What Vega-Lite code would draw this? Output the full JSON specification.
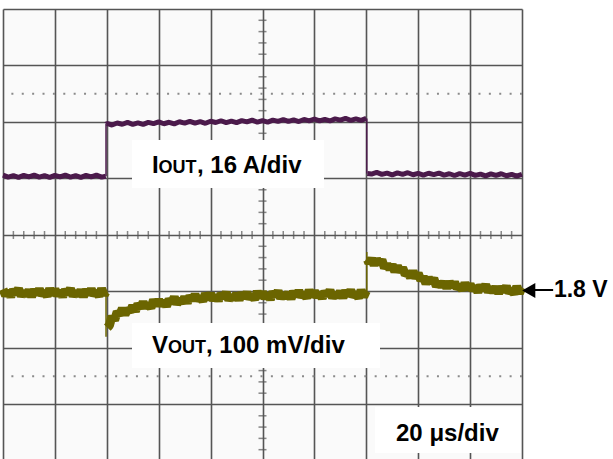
{
  "$schema": "https://vega.github.io/schema/vega-lite/v6.json",
  "width": 519,
  "height": 450,
  "autosize": {"type": "none"},
  "padding": {"left": 3, "top": 9, "right": 91, "bottom": 0},
  "background": "white",
  "config": {"view": {"stroke": null, "fill": "#fafafa"}},
  "datasets": {
    "vout": [
      {"t":0,"v":3.04},{"t":1,"v":2.93},{"t":2,"v":3.01},{"t":3,"v":2.91},{"t":4,"v":3.03},{"t":5,"v":2.96},{"t":6,"v":3.05},{"t":7,"v":2.92},{"t":8,"v":3.00},{"t":9,"v":2.93},
      {"t":10,"v":3.02},{"t":11,"v":2.91},{"t":12,"v":3.03},{"t":13,"v":2.95},{"t":14,"v":3.04},{"t":15,"v":2.94},{"t":16,"v":2.99},{"t":17,"v":2.92},{"t":18,"v":3.05},{"t":19,"v":2.94},
      {"t":20,"v":3.04},{"t":21,"v":2.93},{"t":22,"v":3.01},{"t":23,"v":2.91},{"t":24,"v":3.03},{"t":25,"v":2.96},{"t":26,"v":3.05},{"t":27,"v":2.92},{"t":28,"v":3.00},{"t":29,"v":2.93},
      {"t":30,"v":3.02},{"t":31,"v":2.91},{"t":32,"v":3.03},{"t":33,"v":2.95},{"t":34,"v":3.04},{"t":35,"v":2.94},{"t":36,"v":2.99},{"t":37,"v":2.92},{"t":38,"v":3.05},{"t":39,"v":2.94},
      {"t":39.6,"v":2.99},{"t":39.8,"v":null},{"t":40.2,"v":2.36},
      {"t":41,"v":2.40},{"t":42,"v":2.56},{"t":43,"v":2.49},{"t":44,"v":2.64},{"t":45,"v":2.59},{"t":46,"v":2.70},{"t":47,"v":2.59},{"t":48,"v":2.69},{"t":49,"v":2.64},
      {"t":50,"v":2.75},{"t":51,"v":2.65},{"t":52,"v":2.78},{"t":53,"v":2.71},{"t":54,"v":2.81},{"t":55,"v":2.72},{"t":56,"v":2.77},{"t":57,"v":2.71},{"t":58,"v":2.85},{"t":59,"v":2.75},
      {"t":60,"v":2.85},{"t":61,"v":2.75},{"t":62,"v":2.83},{"t":63,"v":2.74},{"t":64,"v":2.86},{"t":65,"v":2.80},{"t":66,"v":2.90},{"t":67,"v":2.78},{"t":68,"v":2.86},{"t":69,"v":2.80},
      {"t":70,"v":2.90},{"t":71,"v":2.80},{"t":72,"v":2.92},{"t":73,"v":2.85},{"t":74,"v":2.94},{"t":75,"v":2.85},{"t":76,"v":2.90},{"t":77,"v":2.83},{"t":78,"v":2.96},{"t":79,"v":2.86},
      {"t":80,"v":2.96},{"t":81,"v":2.85},{"t":82,"v":2.93},{"t":83,"v":2.84},{"t":84,"v":2.96},{"t":85,"v":2.89},{"t":86,"v":2.98},{"t":87,"v":2.85},{"t":88,"v":2.93},{"t":89,"v":2.86},
      {"t":90,"v":2.96},{"t":91,"v":2.85},{"t":92,"v":2.97},{"t":93,"v":2.89},{"t":94,"v":2.98},{"t":95,"v":2.88},{"t":96,"v":2.93},{"t":97,"v":2.86},{"t":98,"v":3.00},{"t":99,"v":2.89},
      {"t":100,"v":2.99},{"t":101,"v":2.88},{"t":102,"v":2.96},{"t":103,"v":2.86},{"t":104,"v":2.99},{"t":105,"v":2.92},{"t":106,"v":3.01},{"t":107,"v":2.88},{"t":108,"v":2.96},{"t":109,"v":2.89},
      {"t":110,"v":2.98},{"t":111,"v":2.87},{"t":112,"v":3.00},{"t":113,"v":2.92},{"t":114,"v":3.01},{"t":115,"v":2.91},{"t":116,"v":2.96},{"t":117,"v":2.89},{"t":118,"v":3.02},{"t":119,"v":2.91},
      {"t":120,"v":3.01},{"t":121,"v":2.90},{"t":122,"v":2.98},{"t":123,"v":2.88},{"t":124,"v":3.00},{"t":125,"v":2.93},{"t":126,"v":3.02},{"t":127,"v":2.89},{"t":128,"v":2.97},{"t":129,"v":2.90},
      {"t":130,"v":3.00},{"t":131,"v":2.89},{"t":132,"v":3.01},{"t":133,"v":2.93},{"t":134,"v":3.02},{"t":135,"v":2.92},{"t":136,"v":2.96},{"t":137,"v":2.89},{"t":138,"v":3.02},{"t":139,"v":2.91},
      {"t":140,"v":3.01},{"t":140.2,"v":null},{"t":140.5,"v":3.56},
      {"t":141,"v":3.50},{"t":142,"v":3.58},{"t":143,"v":3.47},{"t":144,"v":3.57},{"t":145,"v":3.49},{"t":146,"v":3.56},{"t":147,"v":3.42},{"t":148,"v":3.48},{"t":149,"v":3.40},
      {"t":150,"v":3.47},{"t":151,"v":3.35},{"t":152,"v":3.45},{"t":153,"v":3.35},{"t":154,"v":3.42},{"t":155,"v":3.30},{"t":156,"v":3.33},{"t":157,"v":3.25},{"t":158,"v":3.36},{"t":159,"v":3.24},
      {"t":160,"v":3.32},{"t":161,"v":3.20},{"t":162,"v":3.26},{"t":163,"v":3.14},{"t":164,"v":3.24},{"t":165,"v":3.16},{"t":166,"v":3.23},{"t":167,"v":3.09},{"t":168,"v":3.16},{"t":169,"v":3.09},
      {"t":170,"v":3.17},{"t":171,"v":3.06},{"t":172,"v":3.17},{"t":173,"v":3.08},{"t":174,"v":3.16},{"t":175,"v":3.06},{"t":176,"v":3.10},{"t":177,"v":3.03},{"t":178,"v":3.15},{"t":179,"v":3.04},
      {"t":180,"v":3.13},{"t":181,"v":3.02},{"t":182,"v":3.09},{"t":183,"v":2.99},{"t":184,"v":3.11},{"t":185,"v":3.03},{"t":186,"v":3.12},{"t":187,"v":2.99},{"t":188,"v":3.07},{"t":189,"v":2.99},
      {"t":190,"v":3.08},{"t":191,"v":2.97},{"t":192,"v":3.08},{"t":193,"v":3.00},{"t":194,"v":3.09},{"t":195,"v":2.98},{"t":196,"v":3.03},{"t":197,"v":2.96},{"t":198,"v":3.09},{"t":199,"v":2.97},
      {"t":200,"v":3.07}
    ],
    "iout": [
      {"t":0,"v":5.06},{"t":2,"v":5.025},{"t":4,"v":5.05},{"t":6,"v":5.02},{"t":8,"v":5.055},{"t":10,"v":5.03},{"t":12,"v":5.06},{"t":14,"v":5.025},{"t":16,"v":5.05},{"t":18,"v":5.02},
      {"t":20,"v":5.055},{"t":22,"v":5.03},{"t":24,"v":5.06},{"t":26,"v":5.025},{"t":28,"v":5.05},{"t":30,"v":5.02},{"t":32,"v":5.055},{"t":34,"v":5.03},{"t":36,"v":5.06},{"t":38,"v":5.025},
      {"t":39.6,"v":5.04},{"t":39.7,"v":null},{"t":39.85,"v":5.965},
      {"t":40,"v":5.975},{"t":42,"v":5.947},{"t":44,"v":5.983},{"t":46,"v":5.96},{"t":48,"v":5.992},{"t":50,"v":5.959},{"t":52,"v":5.985},{"t":54,"v":5.957},{"t":56,"v":5.994},{"t":58,"v":5.97},
      {"t":60,"v":6.002},{"t":62,"v":5.969},{"t":64,"v":5.995},{"t":66,"v":5.967},{"t":68,"v":6.004},{"t":70,"v":5.981},{"t":72,"v":6.012},{"t":74,"v":5.979},{"t":76,"v":6.006},{"t":78,"v":5.977},
      {"t":80,"v":6.014},{"t":82,"v":5.991},{"t":84,"v":6.022},{"t":86,"v":5.989},{"t":88,"v":6.016},{"t":90,"v":5.988},{"t":92,"v":6.024},{"t":94,"v":6.001},{"t":96,"v":6.033},{"t":98,"v":5.999},
      {"t":100,"v":6.026},{"t":102,"v":5.998},{"t":104,"v":6.034},{"t":106,"v":6.011},{"t":108,"v":6.043},{"t":110,"v":6.01},{"t":112,"v":6.036},{"t":114,"v":6.008},{"t":116,"v":6.045},{"t":118,"v":6.021},
      {"t":120,"v":6.053},{"t":122,"v":6.02},{"t":124,"v":6.046},{"t":126,"v":6.018},{"t":128,"v":6.055},{"t":130,"v":6.032},{"t":132,"v":6.063},{"t":134,"v":6.03},{"t":136,"v":6.057},{"t":138,"v":6.028},
      {"t":140,"v":6.065},{"t":140.2,"v":null},{"t":140.4,"v":5.09},
      {"t":142,"v":5.079},{"t":144,"v":5.108},{"t":146,"v":5.072},{"t":148,"v":5.096},{"t":150,"v":5.065},{"t":152,"v":5.099},{"t":154,"v":5.073},{"t":156,"v":5.102},{"t":158,"v":5.066},{"t":160,"v":5.09},
      {"t":162,"v":5.059},{"t":164,"v":5.093},{"t":166,"v":5.067},{"t":168,"v":5.096},{"t":170,"v":5.06},{"t":172,"v":5.084},{"t":174,"v":5.053},{"t":176,"v":5.087},{"t":178,"v":5.061},{"t":180,"v":5.09},
      {"t":182,"v":5.054},{"t":184,"v":5.078},{"t":186,"v":5.047},{"t":188,"v":5.081},{"t":190,"v":5.055},{"t":192,"v":5.084},{"t":194,"v":5.048},{"t":196,"v":5.072},{"t":198,"v":5.041},{"t":200,"v":5.075}
    ],
    "vedges": [
      {"t":39.7,"v1":2.99,"v2":2.20},
      {"t":140.2,"v1":2.98,"v2":3.70}
    ],
    "iedges": [
      {"t":39.7,"v1":5.04,"v2":5.97},
      {"t":140.2,"v1":6.06,"v2":5.09}
    ],
    "hticks": [
      {"t":4},{"t":8},{"t":12},{"t":16},{"t":24},{"t":28},{"t":32},{"t":36},{"t":44},{"t":48},{"t":52},{"t":56},{"t":64},{"t":68},{"t":72},{"t":76},{"t":84},{"t":88},{"t":92},{"t":96},
      {"t":104},{"t":108},{"t":112},{"t":116},{"t":124},{"t":128},{"t":132},{"t":136},{"t":144},{"t":148},{"t":152},{"t":156},{"t":164},{"t":168},{"t":172},{"t":176},{"t":184},{"t":188},{"t":192},{"t":196}
    ],
    "vticks": [
      {"d":0.2},{"d":0.4},{"d":0.6},{"d":0.8},{"d":1.2},{"d":1.4},{"d":1.6},{"d":1.8},{"d":2.2},{"d":2.4},{"d":2.6},{"d":2.8},{"d":3.2},{"d":3.4},{"d":3.6},{"d":3.8},
      {"d":4.2},{"d":4.4},{"d":4.6},{"d":4.8},{"d":5.2},{"d":5.4},{"d":5.6},{"d":5.8},{"d":6.2},{"d":6.4},{"d":6.6},{"d":6.8},{"d":7.2},{"d":7.4},{"d":7.6},{"d":7.8}
    ]
  },
  "layer": [
    {
      "data": {"name": "vedges"},
      "mark": {"type": "rule", "color": "#6b6500", "strokeWidth": 1.5},
      "encoding": {
        "x": {"field": "t", "type": "quantitative",
              "scale": {"domain": [0, 200], "nice": false, "zero": false},
              "axis": {"values": [0,20,40,60,80,100,120,140,160,180,200], "grid": true, "gridColor": "#555555", "gridWidth": 1.6, "labels": false, "ticks": false, "domain": false, "title": null}},
        "y": {"field": "v1", "type": "quantitative",
              "scale": {"domain": [0.035, 8], "nice": false, "zero": false},
              "axis": {"values": [1,2,3,4,5,6,7,8], "grid": true, "gridColor": "#555555", "gridWidth": 1.6, "labels": false, "ticks": false, "domain": false, "title": null}},
        "y2": {"field": "v2"}
      }
    },
    {
      "data": {"values": [{"d": 1.5}, {"d": 6.5}]},
      "mark": {"type": "rule", "color": "#8a8a8a", "strokeWidth": 2, "strokeDash": [2, 8.38]},
      "encoding": {"y": {"field": "d", "type": "quantitative"}}
    },
    {
      "data": {"name": "hticks"},
      "mark": {"type": "tick", "orient": "vertical", "color": "#555555", "size": 8, "thickness": 1.5},
      "encoding": {"x": {"field": "t", "type": "quantitative"}, "y": {"datum": 4}}
    },
    {
      "data": {"name": "vticks"},
      "mark": {"type": "tick", "orient": "horizontal", "color": "#555555", "size": 8, "thickness": 1.5},
      "encoding": {"y": {"field": "d", "type": "quantitative"}, "x": {"datum": 100}}
    },
    {
      "data": {"name": "iedges"},
      "mark": {"type": "rule", "color": "#4b1a4b", "strokeWidth": 1.5},
      "encoding": {"x": {"field": "t", "type": "quantitative"}, "y": {"field": "v1", "type": "quantitative"}, "y2": {"field": "v2"}}
    },
    {
      "data": {"name": "iout"},
      "mark": {"type": "line", "color": "#4b1a4b", "strokeWidth": 5, "strokeJoin": "bevel", "invalid": "break-paths-filter-domains"},
      "encoding": {"x": {"field": "t", "type": "quantitative"}, "y": {"field": "v", "type": "quantitative"}}
    },
    {
      "data": {"name": "vout"},
      "mark": {"type": "line", "color": "#6b6500", "strokeWidth": 9, "strokeJoin": "bevel", "invalid": "break-paths-filter-domains"},
      "encoding": {"x": {"field": "t", "type": "quantitative"}, "y": {"field": "v", "type": "quantitative"}}
    },
    {
      "data": {"values": [{}]},
      "mark": {"type": "rect", "color": "white"},
      "encoding": {"x": {"datum": 49.71}, "x2": {"datum": 123.7}, "y": {"datum": 5.681}, "y2": {"datum": 4.832}}
    },
    {
      "data": {"values": [{}]},
      "mark": {"type": "rect", "color": "white"},
      "encoding": {"x": {"datum": 49.71}, "x2": {"datum": 145.28}, "y": {"datum": 2.442}, "y2": {"datum": 1.646}}
    },
    {
      "data": {"values": [{}]},
      "mark": {"type": "rect", "color": "white"},
      "encoding": {"x": {"datum": 143.35}, "x2": {"datum": 199.5}, "y": {"datum": 0.955}, "y2": {"datum": 0.141}}
    },
    {
      "data": {"values": [{}]},
      "mark": {"type": "text", "text": "I", "font": "Liberation Sans", "fontWeight": "bold", "fontSize": 24, "align": "left", "baseline": "alphabetic", "color": "black"},
      "encoding": {"x": {"datum": 57.42}, "y": {"datum": 5.097}}
    },
    {
      "data": {"values": [{}]},
      "mark": {"type": "text", "text": "OUT", "font": "Liberation Sans", "fontWeight": "bold", "fontSize": 18, "align": "left", "baseline": "alphabetic", "color": "black"},
      "encoding": {"x": {"datum": 59.9}, "y": {"datum": 5.097}}
    },
    {
      "data": {"values": [{}]},
      "mark": {"type": "text", "text": ", 16 A/div", "font": "Liberation Sans", "fontWeight": "bold", "fontSize": 24, "align": "left", "baseline": "alphabetic", "color": "black"},
      "encoding": {"x": {"datum": 74.76}, "y": {"datum": 5.097}}
    },
    {
      "data": {"values": [{}]},
      "mark": {"type": "text", "text": "V", "font": "Liberation Sans", "fontWeight": "bold", "fontSize": 24, "align": "left", "baseline": "alphabetic", "color": "black"},
      "encoding": {"x": {"datum": 57.42}, "y": {"datum": 1.911}}
    },
    {
      "data": {"values": [{}]},
      "mark": {"type": "text", "text": "OUT", "font": "Liberation Sans", "fontWeight": "bold", "fontSize": 18, "align": "left", "baseline": "alphabetic", "color": "black"},
      "encoding": {"x": {"datum": 63.58}, "y": {"datum": 1.911}}
    },
    {
      "data": {"values": [{}]},
      "mark": {"type": "text", "text": ", 100 mV/div", "font": "Liberation Sans", "fontWeight": "bold", "fontSize": 24, "align": "left", "baseline": "alphabetic", "color": "black"},
      "encoding": {"x": {"datum": 78.23}, "y": {"datum": 1.911}}
    },
    {
      "data": {"values": [{}]},
      "mark": {"type": "text", "text": "20 μs/div", "font": "Liberation Sans", "fontWeight": "bold", "fontSize": 24, "align": "left", "baseline": "alphabetic", "color": "black"},
      "encoding": {"x": {"datum": 151.45}, "y": {"datum": 0.354}}
    },
    {
      "data": {"values": [{}]},
      "mark": {"type": "rule", "color": "black", "strokeWidth": 2},
      "encoding": {"x": {"datum": 204.5}, "x2": {"datum": 212.0}, "y": {"datum": 3.026}}
    },
    {
      "data": {"values": [{}]},
      "mark": {"type": "point", "shape": "triangle-left", "filled": true, "color": "black", "opacity": 1, "size": 230},
      "encoding": {"x": {"datum": 202.6}, "y": {"datum": 3.017}}
    },
    {
      "data": {"values": [{}]},
      "mark": {"type": "text", "text": "1.8 V", "font": "Liberation Sans", "fontWeight": "bold", "fontSize": 23, "align": "left", "baseline": "alphabetic", "color": "black"},
      "encoding": {"x": {"datum": 212.3}, "y": {"datum": 2.902}}
    }
  ]
}
